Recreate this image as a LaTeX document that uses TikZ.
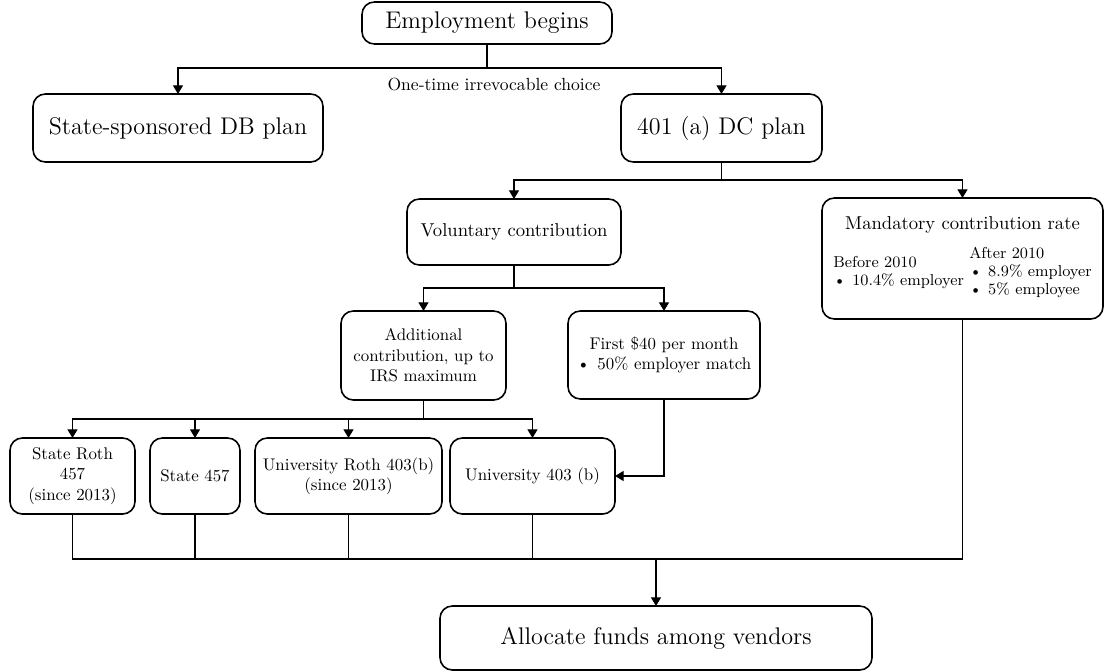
\documentclass[tikz,border=0pt]{standalone}
\usepackage{tikz}
\usetikzlibrary{arrows.meta,positioning,calc}
\tikzstyle{process} = [rectangle, rounded corners=7pt, minimum width=2cm, minimum height=1.5cm, text centered, draw=black, fill=white, line width=0.9pt, outer sep=0pt, font=\fontsize{9.6}{11.6}\selectfont]
\tikzstyle{processbig} = [process, font=\fontsize{13.7}{16}\selectfont]
\tikzstyle{processmid} = [process, font=\fontsize{10.6}{12.5}\selectfont]
\tikzstyle{arrow} = [line width=0.7pt,-{Triangle[scale=1.1]}]
\tikzstyle{line} = [line width=0.7pt]
\begin{document}
\begin{tikzpicture}[node distance=2cm, every text node part/.style={align=center}]
		\useasboundingbox (0,0) rectangle (22.14,-13.42);
		
		\node (start) [processbig, minimum width=5cm, minimum height=0.84cm] at (9.74,-0.46) {Employment begins};
		
		\node (db_plan) [processbig, minimum width=5.8cm, minimum height=1.36cm, below left = 1cm and 0.78cm of start] {State-sponsored DB plan};
		\node (dc_plan) [processbig, minimum width=4.02cm, minimum height=1.36cm, below right = 1cm and 0.18cm of start] {401 (a) DC plan};
		\node (choice) [below = 0.55cm of start, xshift = 0.14cm] {One-time irrevocable choice};
		
		\node (voluntary) [processmid, minimum width=4.28cm, minimum height=1.32cm, below left = 0.74cm and 0cm of dc_plan] {Voluntary contribution};
		\node (mandatory) [processmid, minimum width=5.62cm, minimum height=2.42cm, below right = 0.72cm and 0cm of dc_plan] {Mandatory contribution rate\\[6pt]
			{\fontsize{9}{10.3}\selectfont\begin{tabular}{@{}l@{}}Before 2010\\ \textbullet\hspace{0.4em}10.4\% employer\end{tabular}
			\begin{tabular}{@{}l@{}}After 2010\\ \textbullet\hspace{0.4em}8.9\% employer\\ \textbullet\hspace{0.4em}5\% employee\end{tabular}}};
		
		\node (additional) [process, minimum width=3.3cm, minimum height=1.78cm, below = 0.92cm of voluntary, xshift = -1.81cm] {Additional\\contribution, up to\\IRS maximum};
		\node (first_40) [process, minimum width=3.84cm, minimum height=1.76cm, below = 0.92cm of voluntary, xshift = 3cm] {First \$40 per month\\\textbullet\hspace{0.45em}50\% employer match};
		
		\node (state_roth) [process, minimum width=2.5cm, minimum height=1.52cm, below = 0.76cm of additional, xshift = -7.02cm] {State Roth\\457\\(since 2013)};
		\node (state_457) [process, minimum width=1.8cm, minimum height=1.52cm, right = 0.3cm of state_roth] {State 457};
		\node (univ_roth) [process, minimum width=3.74cm, minimum height=1.52cm, right = 0.3cm of state_457] {University Roth 403(b)\\(since 2013)};
		\node (univ_403) [process, minimum width=3.3cm, minimum height=1.52cm, right = 0.16cm of univ_roth] {University 403 (b)};
		
		\node (allocate) [processbig, minimum width=8.64cm, minimum height=1.28cm, below = 1.84cm of univ_403, xshift = 2.47cm] {Allocate funds among vendors};
		
		% first choice
		\draw [line] (start.south) -- ++(0,-0.48) coordinate (split_top);
		\draw [arrow] (split_top) -| (db_plan.north);
		\draw [arrow] (split_top) -| (dc_plan.north);
		
		% DC plan
		\draw [line] (dc_plan.south) -- ++(0,-0.36) coordinate (split_dc);
		\draw [arrow] (split_dc) -| (voluntary.north);
		\draw [arrow] (split_dc) -| (mandatory.north);
		
		% voluntary
		\draw [line] (voluntary.south) -- ++(0,-0.46) coordinate (split_vol);
		\draw [arrow] (split_vol) -| (additional.north);
		\draw [arrow] (split_vol) -| (first_40.north);
		
		% accounts
		\draw [line] (additional.south) -- ++(0,-0.38) coordinate (split_add);
		\draw [arrow] (split_add) -| (state_roth.north);
		\draw [arrow] (split_add) -| (state_457.north);
		\draw [arrow] (split_add) -| (univ_roth.north);
		\draw [arrow] (split_add) -| (univ_403.north);
		
		\draw [arrow] (first_40.south) |- (univ_403.east);
		
		% to vendors
		\coordinate (merge) at ($(allocate.north)+(0,0.94)$);
		\draw [line] (state_roth.south) |- (merge);
		\draw [line] (state_457.south) |- (merge);
		\draw [line] (univ_roth.south) |- (merge);
		\draw [line] (univ_403.south) |- (merge);
		\draw [line] (mandatory.south) |- (merge);
		\draw [arrow] (merge) -- (allocate.north);
		
\end{tikzpicture}
\end{document}
